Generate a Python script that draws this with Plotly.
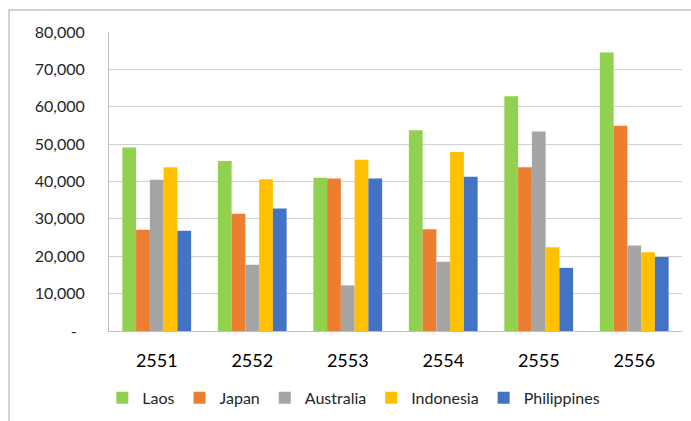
import plotly.graph_objects as go

# Categories (Thai Buddhist-era years) and values per country
years = ["2551", "2552", "2553", "2554", "2555", "2556"]
laos = [49100, 45500, 41000, 53700, 62800, 74500]
japan = [27100, 31400, 40800, 27200, 43800, 54900]
australia = [40500, 17700, 12200, 18500, 53400, 22900]
indonesia = [43800, 40600, 45800, 47900, 22400, 21100]
philippines = [26800, 32800, 40800, 41300, 16900, 19800]

y_ticks = [0, 10000, 20000, 30000, 40000, 50000, 60000, 70000, 80000]

series = [
    ("Laos", laos, "#92d050"),
    ("Japan", japan, "#ed7d31"),
    ("Australia", australia, "#a5a5a5"),
    ("Indonesia", indonesia, "#ffc000"),
    ("Philippines", philippines, "#4472c4"),
]

FONT = "Lato"
TEXT = "#262626"

fig = go.Figure()
for name, vals, color in series:
    fig.add_trace(go.Bar(
        x=years, y=vals, name=name,
        marker=dict(color=color, line=dict(width=0)),
    ))

tick_text = ["-\u00a0\u00a0" if v == 0 else f"{v:,}" for v in y_ticks]

fig.update_layout(
    width=691, height=421,
    margin=dict(l=109, r=9, t=32, b=90),
    paper_bgcolor="white", plot_bgcolor="white",
    barmode="group", bargap=0.28, bargroupgap=0,
    font=dict(family=FONT, color=TEXT),
    showlegend=True,
    legend=dict(
        orientation="h",
        xref="container", yref="container",
        x=0.512, xanchor="center",
        y=0.055, yanchor="middle",
        font=dict(size=16, family=FONT, color=TEXT),
        itemwidth=30,
        traceorder="normal",
    ),
    xaxis=dict(
        type="category",
        showgrid=False,
        showline=True, linecolor="#bfbfbf", linewidth=1,
        ticks="",
        tickfont=dict(size=18, family=FONT, color="#000000"),
        ticklabelstandoff=13,
    ),
    yaxis=dict(
        range=[0, 80000],
        tickvals=y_ticks, ticktext=tick_text,
        showgrid=True, gridcolor="#d0d0d0", gridwidth=1,
        showline=True, linecolor="#bfbfbf", linewidth=1,
        zeroline=False,
        ticks="",
        tickfont=dict(size=16, family=FONT, color=TEXT),
        ticklabelstandoff=20,
    ),
)

# Outer chart-area border
fig.add_shape(
    type="rect", xref="paper", yref="paper",
    x0=-0.1745, x1=1.05, y0=-0.4, y1=1.0736,
    line=dict(color="#a6a6a6", width=1),
    fillcolor="rgba(0,0,0,0)", layer="below",
)

fig.write_html("out.html")
